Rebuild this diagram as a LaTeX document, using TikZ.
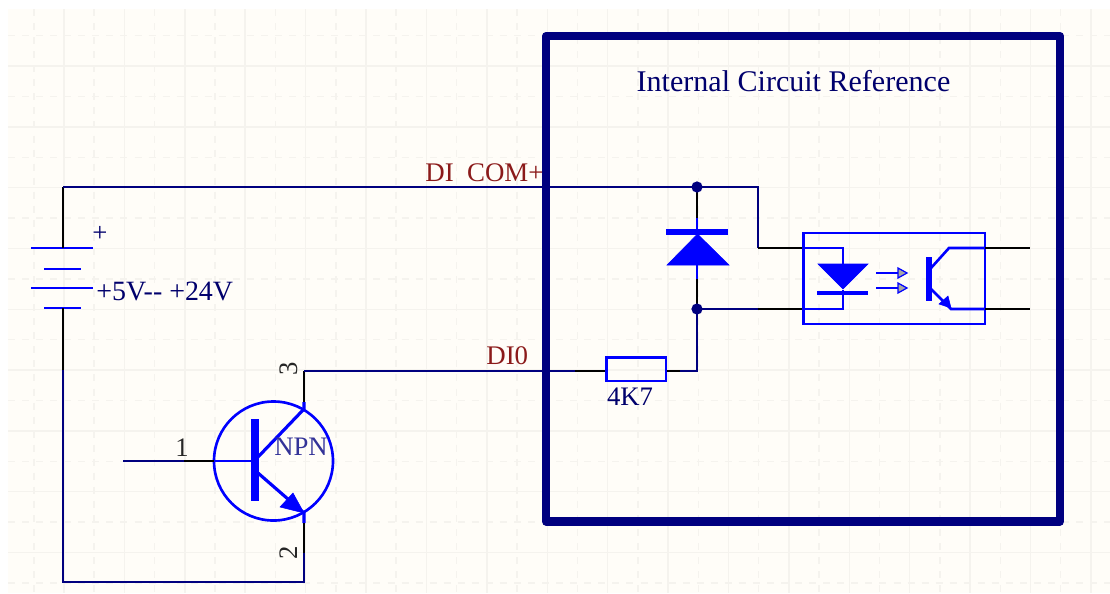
\documentclass[tikz,border=0pt]{standalone}
\usepackage{fontspec}
\setmainfont{Liberation Serif}
\definecolor{paper}{HTML}{FFFDF8}
\definecolor{gridline}{HTML}{F5F3EE}
\definecolor{wirenavy}{HTML}{00007F}
\definecolor{partblue}{HTML}{0000FF}
\definecolor{netred}{HTML}{8B1A1A}
\tikzset{
  wire/.style={draw=wirenavy,line width=1.5pt},
  stub/.style={draw=black,line width=1.5pt},
  part/.style={draw=partblue,line width=1.5pt},
  solidpart/.style={draw=partblue,fill=partblue,line width=0.3pt},
  dot/.style={circle,fill=wirenavy,inner sep=0pt,minimum size=6.4pt},
  navytext/.style={text=wirenavy!85!black,inner sep=0pt,font=\fontsize{15.2pt}{16pt}\selectfont},
  nettext/.style={text=netred,inner sep=0pt,font=\fontsize{15.3pt}{16pt}\selectfont},
  pintext/.style={text=black!85,inner sep=0pt,font=\fontsize{15.2pt}{16pt}\selectfont},
}
\begin{document}
\begin{tikzpicture}[x=0.02cm,y=-0.02cm]
    \useasboundingbox (0,0) rectangle (1110,593);
    \fill[paper] (8,9) rectangle (1110,593);
    % grid
    \foreach \k in {1,...,18}
      \draw[gridline,line width=0.8pt] ({3.6+60.4*\k},9) -- ({3.6+60.4*\k},593);
    \foreach \k in {0,...,18}
      \draw[gridline,line width=0.8pt,dash pattern=on 4pt off 4pt] ({33.8+60.4*\k},9) -- ({33.8+60.4*\k},593);
    \foreach \k in {1,...,9}
      \draw[gridline,line width=0.8pt] (8,{5.3+60.8*\k}) -- (1110,{5.3+60.8*\k});
    \foreach \k in {0,...,9}
      \draw[gridline,line width=0.8pt,dash pattern=on 4pt off 4pt] (8,{35.7+60.8*\k}) -- (1110,{35.7+60.8*\k});

    % battery
    \coordinate (BatTop) at (63,187);
    \coordinate (PlateA) at (63,248);
    \coordinate (PlateD) at (63,308);
    \coordinate (BatJoin) at (63,370);
    \coordinate (BatBot) at (63,582);
    \draw[part] (31,248) -- (93,248);
    \draw[part] (44,269) -- (81,269);
    \draw[part] (31,288) -- (93,288);
    \draw[part] (44,308) -- (81,308);
    \draw[stub] (BatTop) -- (PlateA);
    \draw[stub] (PlateD) -- (BatJoin);
    \node[navytext] (plus) at (100,234) {+};
    \node[navytext,anchor=west,font=\fontsize{15.9pt}{16pt}\selectfont] (volts) at (96,291) {+5V-{}- +24V};

    % npn transistor
    \coordinate (Q) at (273.5,461);
    \coordinate (BaseIn) at (123,461);
    \coordinate (BaseStub) at (184,461);
    \coordinate (BaseEdge) at (214,461);
    \coordinate (BaseBar) at (255,461);
    \coordinate (Coll) at (304,409);
    \coordinate (CollEdge) at (304,402);
    \coordinate (CollTop) at (304,371);
    \coordinate (Emit) at (304,513);
    \coordinate (EmitEdge) at (304,523);
    \coordinate (EmitStub) at (304,553);
    \coordinate (EmitBot) at (304,582);
    \draw[part] (Q) circle (59.5);
    \draw[part] (BaseEdge) -- (BaseBar);
    \draw[partblue,line width=4.4pt] (255,419) -- (255,501);
    \draw[part,line width=1.8pt] (258,457) -- (Coll) -- (CollEdge);
    \draw[part,line width=1.8pt] (258,473) -- (Emit) -- (EmitEdge);
    \draw[solidpart] (Emit) -- (293,493) -- (280,507) -- cycle;
    \draw[wire] (BaseIn) -- (BaseStub);
    \draw[stub] (BaseStub) -- (BaseEdge);
    \draw[stub] (CollTop) -- (CollEdge);
    \draw[stub] (EmitEdge) -- (EmitStub);
    \node[navytext,text=wirenavy!80] (npn) at (301,447) {NPN};
    \node[pintext] (pinA) at (182,448) {1};
    \node[pintext,rotate=90] (pinB) at (289,553) {2};
    \node[pintext,rotate=90] (pinC) at (289,369) {3};

    % nets
    \coordinate (ComNode) at (697,187);
    \coordinate (ComTurn) at (758,187);
    \coordinate (AnodeTurn) at (758,248);
    \coordinate (MidNode) at (697,309);
    \coordinate (MidEnd) at (758,309);
    \coordinate (OptoA) at (803,248);
    \coordinate (OptoB) at (803,309);
    \coordinate (InEnd) at (575,371);
    \coordinate (ResLeft) at (606,371);
    \coordinate (ResRight) at (666,371);
    \coordinate (ResWire) at (697,371);
    \draw[wire] (BatTop) -- (ComNode) -- (ComTurn) -- (AnodeTurn);
    \draw[wire] (BatJoin) -- (BatBot) -- (EmitBot) -- (EmitStub);
    \draw[wire] (CollTop) -- (InEnd);
    \draw[stub] (InEnd) -- (ResLeft);
    \draw[stub] (ResRight) -- (680,371);
    \draw[wire] (680,371) -- (ResWire) -- (MidNode) -- (MidEnd);
    \draw[stub] (AnodeTurn) -- (OptoA);
    \draw[stub] (MidEnd) -- (OptoB);

    % frame
    \draw[draw=wirenavy,line width=4.6pt,line join=round] (546,36) rectangle (1060,521.5);
    \node[navytext,font=\fontsize{17.1pt}{18pt}\selectfont] (title) at (793.5,81) {Internal Circuit Reference};
    \node[nettext,anchor=west] (comlabel) at (425,173) {DI\ \ COM+};
    \node[nettext,anchor=west] (dilabel) at (486,356) {DI0};
    \node[navytext] (reslabel) at (630,397) {4K7};

    % resistor
    \draw[part] (606.5,357.5) rectangle (666,381);

    % flyback diode
    \coordinate (DiodeTop) at (697,218);
    \coordinate (DiodeBot) at (697,279);
    \draw[stub] (ComNode) -- (DiodeTop);
    \draw[part] (DiodeTop) -- (697,232);
    \draw[stub] (DiodeBot) -- (MidNode);
    \draw[part] (DiodeBot) -- (697,265);
    \draw[partblue,line width=3pt] (666,232) -- (728,232);
    \draw[solidpart] (697.5,234) -- (729,265) -- (667,265) -- cycle;
    \node[dot] (ComDot) at (ComNode) {};
    \node[dot] (MidDot) at (MidNode) {};

    % optocoupler
    \draw[part] (803.5,233) rectangle (985,324);
    \draw[part] (OptoA) -- (843,248) -- (843,264);
    \draw[part] (843,290) -- (843,309) -- (OptoB);
    \draw[solidpart] (818,264) -- (868,264) -- (843,289) -- cycle;
    \draw[partblue,line width=2.8pt] (817,293) -- (868,293);
    \foreach \y in {273,288} {
      \draw[part] (876,\y) -- (898,\y);
      \draw[draw=partblue,fill=gray!70,line width=0.7pt] (898,\y-5) -- (907,\y) -- (898,\y+5) -- cycle;
    }
    \draw[partblue,line width=3pt] (929,257) -- (929,301);
    \coordinate (OutA) at (985,248);
    \coordinate (OutB) at (985,309);
    \draw[part] (931,268) -- (949,248) -- (OutA);
    \draw[part] (931,289) -- (951,309) -- (OutB);
    \draw[solidpart] (951,308) -- (939,304) -- (948,296) -- cycle;
    \draw[stub] (OutA) -- (1030,248);
    \draw[stub] (OutB) -- (1030,309);
  \end{tikzpicture}
\end{document}
